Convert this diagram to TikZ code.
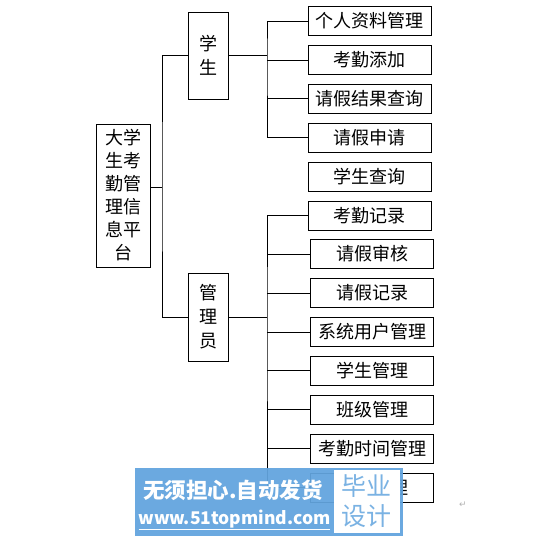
\documentclass[tikz,border=0pt]{standalone}
\usepackage{fontspec}
\newfontfamily\cjk{Noto Sans CJK SC}
\newfontfamily\symfont{DejaVu Sans}
\usetikzlibrary{positioning}
\definecolor{wmblue}{RGB}{98,164,222}

\begin{document}
\begin{tikzpicture}[x=1pt, y=-1pt,
    box/.style={draw, line width=0.9pt, inner sep=0pt, align=center, font=\cjk\fontsize{18}{24}\selectfont},
    leaf/.style={box, minimum width=123pt, minimum height=29pt},
    tall/.style={box, minimum width=40pt, minimum height=87pt},
    link/.style={line width=0.9pt}
  ]
  \useasboundingbox (0,0) rectangle (539,536);

  % root and the two roles
  \node[box, minimum width=54pt, minimum height=143pt, font=\cjk\fontsize{18}{23}\selectfont] (root) at (123,195.5)
    {大学\\生考\\勤管\\理信\\息平\\台};
  \node[tall] (stu) at (208,55.5) {学\\生};
  \node[tall, minimum height=88pt] (adm) at (208,317) {管\\理\\员};

  % student functions
  \node[leaf] (s1) at (369.5,21) {个人资料管理};
  \node[leaf] (s2) at (369.5,60) {考勤添加};
  \node[leaf] (s3) at (369.5,98.5) {请假结果查询};
  \node[leaf] (s4) at (369.5,137.5) {请假申请};
  \node[leaf] (s5) at (369.5,177) {学生查询};

  % admin functions
  \node[leaf] (a1) at (369.5,215.5) {考勤记录};
  \node[leaf] (a2) at (372,254) {请假审核};
  \node[leaf] (a3) at (372,293) {请假记录};
  \node[leaf] (a4) at (372,332) {系统用户管理};
  \node[leaf] (a5) at (372,370.5) {学生管理};
  \node[leaf] (a6) at (372,409.5) {班级管理};
  \node[leaf] (a7) at (372,448.5) {考勤时间管理};
  \node[leaf] (a8) at (372,487.5) {\hphantom{管理管}理};

  % connectors
  \coordinate (j0) at (162,187);
  \coordinate (j1) at (267,55);
  \coordinate (j2) at (267,317);
  \draw[link] (j0 -| root.east) -- (j0);
  \draw[link] (stu.west) -| (j0) |- (adm.west);
  \draw[link] (stu.east |- j1) -- (j1);
  \draw[link] (s1.west) -| (j1) |- (s4.west);
  \foreach \n in {s2,s3}
    \draw[link] (j1 |- \n.west) -- (\n.west);
  \draw[link] (adm.east) -- (j2);
  \draw[link] (a1.west) -| (j2) |- (a8.west);
  \foreach \n in {a2,a3,a4,a5,a6,a7}
    \draw[link] (j2 |- \n.west) -- (\n.west);

  % paragraph mark
  \node[font=\symfont\fontsize{9}{9}\selectfont, text=gray!60] (pmark) at (463,505) {↵};

  % watermark
  \node[fill=wmblue, fill opacity=0.94, minimum width=268pt, minimum height=68pt, inner sep=0pt] (wm) at (269,502) {};
  \node[fill=white, minimum width=66pt, minimum height=63pt, inner sep=0pt, text=wmblue!85,
        font=\cjk\fontsize{25}{30}\selectfont, align=center] (wmtag) at (366.5,501.5) {毕业\\设计};
  \node[text=white, font=\cjk\bfseries\fontsize{21.5}{21.5}\selectfont, inner sep=0pt] (wmline) at (233,490) {无须担心.自动发货};
  \node[text=white, font=\cjk\bfseries\fontsize{17.5}{17.5}\selectfont, inner sep=0pt] (wmurl) at (234.5,520) {\underline{www.51topmind.com}};
\end{tikzpicture}
\end{document}
